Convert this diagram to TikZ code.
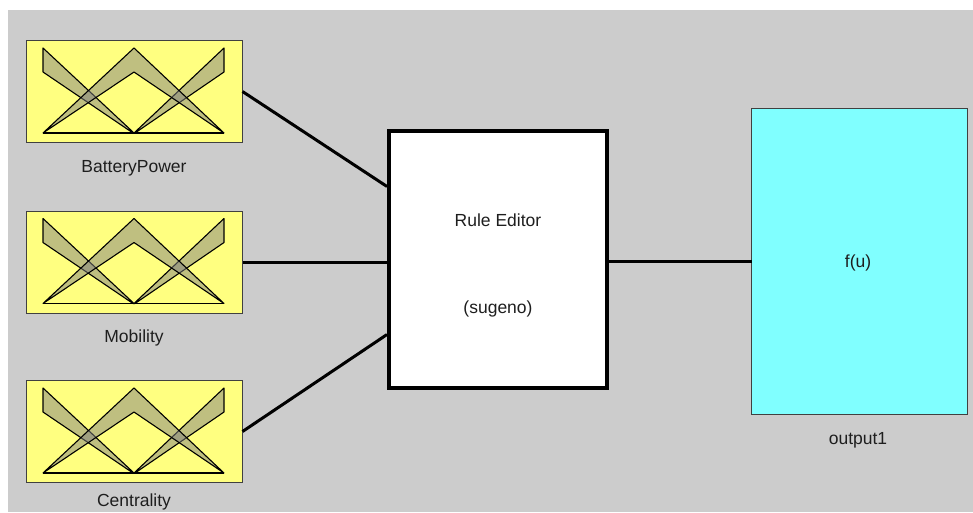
\documentclass[tikz,border=0pt]{standalone}
\usepackage{fontspec}
\setmainfont{Liberation Sans}
\definecolor{bggray}{RGB}{204,204,204}
\definecolor{inyellow}{RGB}{255,255,128}
\definecolor{outcyan}{RGB}{128,255,255}
\definecolor{mfgray}{RGB}{128,128,128}
\definecolor{txt}{RGB}{30,30,30}
\tikzset{
  inbox/.style={draw=black!75, line width=1pt, fill=inyellow, minimum width=216pt, minimum height=102pt, inner sep=0pt, outer sep=0pt},
  rulebox/.style={draw=black, line width=4pt, fill=white, minimum width=218pt, minimum height=257pt, inner sep=0pt},
  outbox/.style={draw=black!75, line width=1pt, fill=outcyan, minimum width=216pt, minimum height=306pt, inner sep=0pt, outer sep=0pt},
  lbl/.style={text=txt, font=\fontsize{17.5}{20}\selectfont, inner sep=0pt},
  conn/.style={line width=3pt, black},
  mf/.style={draw=black, line width=1.1pt, fill=mfgray, fill opacity=0.5, line join=round},
}
\begin{document}
\begin{tikzpicture}[x=1pt,y=-1pt]
\useasboundingbox (0,0) rectangle (973,512);
\fill[white] (0,0) rectangle (973,512);
\fill[bggray] (8,10) rectangle (973,512);
% input boxes
\node[inbox] (in1) at (134.5,91.5) {};
\node[inbox] (in2) at (134.5,262) {};
\node[inbox] (in3) at (134.5,431.5) {};
\foreach \yo in {40,210.5,380}{
  \begin{scope}[shift={(0,\yo)}]
    \draw[mf] (43,8) -- (43,32) -- (133,93) -- (134,93) -- cycle;
    \draw[mf] (224,8) -- (224,32) -- (135,93) -- (134,93) -- cycle;
    \draw[mf] (43,93) -- (134,8) -- (224,93) -- (134,32) -- cycle;
    \draw[line width=1.2pt] (43,93) -- (224,93);
  \end{scope}
}
\node[lbl] (l1) at (134,168) {BatteryPower};
\node[lbl] (l2) at (134,338) {Mobility};
\node[lbl] (l3) at (134,501.5) {Centrality};
% rule box
\node[rulebox] (rule) at (498,259.5) {};
\node[lbl] (r1) at (498,220) {Rule Editor};
\node[lbl] (r2) at (498,309) {(sugeno)};
% output
\node[outbox] (out) at (859.5,261.5) {};
\node[lbl] (o1) at (858,263) {f(u)};
\node[lbl] (o2) at (858,440) {output1};
% connectors
\coordinate (rin) at ([yshift=-1.5pt]rule.east);
\draw[conn] (in1.east) -- ([yshift=73pt]rule.west);
\draw[conn] (in2.east) -- (rule.west |- in2.east);
\draw[conn] (in3.east) -- ([yshift=-75pt]rule.west);
\draw[conn] (rin) -- (out.west |- rin);
\end{tikzpicture}
\end{document}
